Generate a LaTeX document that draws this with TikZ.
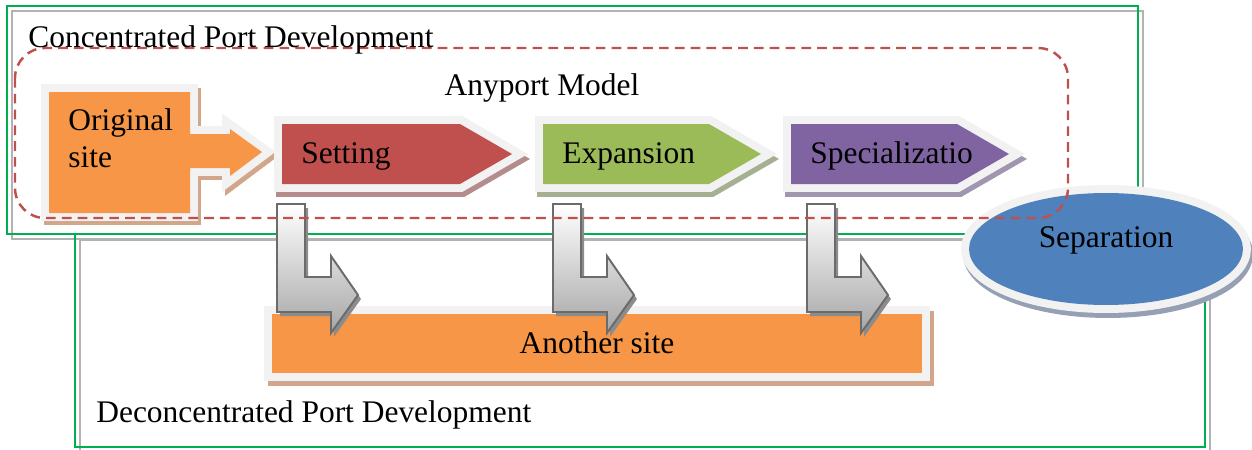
\documentclass[tikz,border=0pt]{standalone}
\usepackage{fontspec}
\setmainfont{Liberation Serif}

\definecolor{setred}{HTML}{C0504D}
\definecolor{expgreen}{HTML}{9BBB59}
\definecolor{specpurple}{HTML}{8064A2}
\definecolor{siteorange}{HTML}{F79646}
\definecolor{sepblue}{HTML}{4F81BD}
\definecolor{bevelgray}{HTML}{F2F2F2}
\definecolor{boxgreen}{HTML}{00B050}
\definecolor{shadowtan}{HTML}{D2A68A}
\definecolor{setshadow}{HTML}{B48C8C}
\definecolor{expshadow}{HTML}{A5AF91}
\definecolor{specshadow}{HTML}{A096AF}
\definecolor{sepshadow}{HTML}{96A0B4}

\begin{document}
\begin{tikzpicture}[
    x=0.02cm, y=-0.02cm,
    every node/.style={font=\fontsize{17.9}{21}\selectfont, inner sep=0pt},
    grayframe/.style={draw=black!30, line width=1.1pt},
    greenframe/.style={draw=boxgreen, line width=1.1pt},
    bevel/.style={preaction={draw=bevelgray, line width=9.1pt, line join=miter}},
    drop/.style={line width=9.1pt, line join=miter},
    model/.style={draw=setred, line width=1.4pt, dash pattern=on 5.5pt off 3.5pt,
        rounded corners=0.6cm},
    bentarrow/.style={draw=black!58, line width=1.1pt, line join=miter,
        top color=white, bottom color=black!35}
]
    \useasboundingbox (0,0) rectangle (1252,450);

    % the two development areas
    \draw[grayframe] (12,11) rectangle (1143,239);
    \draw[greenframe] (7,6) rectangle (1138,234);
    \draw[grayframe] (80,240) rectangle (1210,451);
    \draw[greenframe] (75,234) rectangle (1205,447);

    % another site
    \draw[drop, draw=shadowtan, fill=shadowtan, shift={(4,5)}] (272,314) rectangle (922,373);
    \fill[bevel, fill=siteorange] (272,314) rectangle (922,373);
    \node[anchor=base] (another) at (597,353) {Another site};

    % moves to the other site
    \foreach \x in {277,553,807} {
        \fill[black!45, shift={(3,4)}] (\x,204) -- ++(28,0) -- ++(0,73) -- ++(26,0)
            -- ++(0,-21) -- ++(27,39) -- ++(-27,38) -- ++(0,-21) -- ++(-54,0) -- cycle;
        \draw[bentarrow] (\x,204) -- ++(28,0) -- ++(0,73) -- ++(26,0)
            -- ++(0,-21) -- ++(27,39) -- ++(-27,38) -- ++(0,-21) -- ++(-54,0) -- cycle;
    }

    % separation
    \draw[drop, draw=sepshadow, fill=sepshadow] (1108,254) ellipse [x radius=2.74cm, y radius=1.12cm];
    \fill[bevel, fill=sepblue] (1106,249) ellipse [x radius=2.74cm, y radius=1.12cm];
    \node[anchor=base] (sep) at (1106,247) {Separation};

    % original site
    \draw[drop, draw=shadowtan, fill=shadowtan, shift={(3,4)}]
        (49,92) -- (190,92) -- (190,134) -- (230,134) -- (230,129) -- (262,152)
        -- (230,176) -- (230,168) -- (190,168) -- (190,213) -- (49,213) -- cycle;
    \fill[bevel, fill=siteorange]
        (49,92) -- (190,92) -- (190,134) -- (230,134) -- (230,129) -- (262,152)
        -- (230,176) -- (230,168) -- (190,168) -- (190,213) -- (49,213) -- cycle;
    \node[anchor=base west, align=left] (orig) at (68,167) {Original\\site};

    % anyport stages
    \foreach \x/\w/\col/\sh/\lbl/\name in {282/178/setred/setshadow/Setting/set,
            543/166/expgreen/expshadow/Expansion/exp,
            791/166/specpurple/specshadow/Specializatio/spec} {
        \draw[drop, draw=\sh, fill=\sh, shift={(2,5)}]
            (\x,124) -- (\x+\w,124) -- (\x+\w+52,154) -- (\x+\w,184) -- (\x,184) -- cycle;
        \fill[bevel, fill=\col]
            (\x,124) -- (\x+\w,124) -- (\x+\w+52,154) -- (\x+\w,184) -- (\x,184) -- cycle;
        \node[anchor=base west] (\name) at (\x+19,163) {\lbl};
    }

    % anyport model
    \draw[model] (15,48) rectangle (1068,218);

    \node[anchor=base west] (conc) at (28,47) {Concentrated Port Development};
    \node[anchor=base] (anyport) at (542,95) {Anyport Model};
    \node[anchor=base west] (deconc) at (96,422) {Deconcentrated Port Development};
\end{tikzpicture}
\end{document}
